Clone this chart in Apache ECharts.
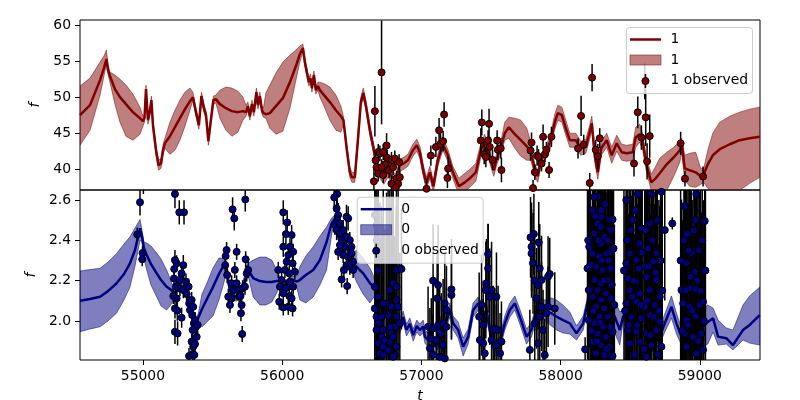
<!DOCTYPE html>
<html><head><meta charset="utf-8">
<script src="https://cdn.jsdelivr.net/npm/echarts@6/dist/echarts.min.js"></script>
<style>html,body{margin:0;padding:0;background:#fff}#c{width:800px;height:400px}</style>
</head><body><div id="c"></div>
<script>
const xTicks = [55000, 56000, 57000, 58000, 59000];
const topTicks = [40, 45, 50, 55, 60];
const botTicks = [2.0, 2.2, 2.4, 2.6];
const xRange = [54548, 59432];
const topRange = [37.13, 60.69];
const botRange = [1.806, 2.65];

// GP prediction for output "1": [t, mean, lower, upper]
const topGP = [
[54548,47.50,43.33,51.53],[54620,48.89,45.42,52.64],[54692,52.36,50.28,54.86],[54720,54.03,52.92,55.69],
[54738,55.28,54.58,56.53],[54749,53.75,53.19,54.58],[54763,52.92,52.08,53.47],[54799,51.11,49.03,53.06],
[54835,50.00,46.53,52.50],[54878,49.03,44.58,51.67],[54928,47.92,44.03,50.42],[54979,47.08,44.86,48.61],
[55000,46.67,45.97,47.36],[55011,47.08,46.53,47.64],[55022,51.11,50.56,51.67],[55036,46.81,46.25,47.36],
[55051,48.19,47.64,48.75],[55061,49.58,49.03,50.14],[55072,46.11,45.56,46.67],[55094,42.64,41.94,43.19],
[55112,40.56,39.86,41.25],[55130,40.83,40.14,41.53],[55144,42.64,41.94,43.33],[55158,43.61,42.92,44.31],
[55194,44.58,42.08,46.53],[55230,45.83,42.64,48.19],[55266,47.08,44.03,49.58],[55302,48.33,45.97,50.69],
[55338,49.44,48.19,51.25],[55359,50.00,49.58,50.69],[55381,47.92,47.36,48.47],[55402,46.11,45.56,46.67],
[55420,50.14,49.58,50.69],[55438,48.47,47.92,49.03],[55453,47.50,46.94,48.06],[55470,43.89,43.33,44.44],
[55488,46.81,46.25,47.36],[55506,49.58,49.03,50.14],[55524,49.72,49.17,50.28],[55553,49.03,47.08,50.97],
[55596,48.47,45.42,51.39],[55639,48.06,44.58,51.25],[55682,47.92,45.14,50.83],[55718,48.06,46.81,50.00],
[55740,47.92,47.36,48.89],[55754,48.75,48.19,49.31],[55768,47.36,46.81,47.92],[55783,49.03,48.47,49.58],
[55797,47.92,47.36,48.47],[55815,50.69,50.14,51.25],[55826,48.89,48.33,49.44],[55840,50.14,49.58,50.69],
[55855,48.19,47.64,48.75],[55865,47.78,47.22,48.47],[55883,47.64,47.08,50.56],[55912,47.78,45.69,51.67],
[55955,48.75,44.86,53.33],[56005,49.86,45.28,54.86],[56056,52.08,48.47,55.83],[56099,54.31,52.36,56.53],
[56127,55.97,54.86,57.08],[56149,56.81,56.25,57.36],[56163,54.86,54.31,55.42],[56177,53.47,52.92,54.03],
[56192,52.08,51.53,52.64],[56203,52.64,52.08,53.19],[56214,51.25,50.69,51.81],[56228,53.06,52.50,53.61],
[56242,50.97,50.42,51.53],[56257,51.53,50.97,52.08],[56271,50.97,50.00,52.08],[56307,50.14,48.47,51.81],
[56343,49.31,46.81,51.39],[56386,48.19,45.42,50.28],[56422,47.36,45.14,48.75],[56440,46.81,46.25,47.36],
[56465,42.64,42.08,43.19],[56486,39.58,38.89,40.28],[56501,38.89,38.19,39.58],[56522,38.89,38.19,39.58],
[56544,44.03,43.33,44.72],[56565,49.31,48.61,50.00],[56583,50.56,49.86,51.25],[56601,48.89,48.19,49.58],
[56630,45.42,44.72,46.11],[56659,42.64,41.94,43.33],[56673,40.83,40.14,41.53],[56702,39.58,38.75,40.42],
[56730,38.75,37.92,39.58],[56759,39.72,38.89,40.56],[56788,39.03,38.19,39.86],[56817,38.47,37.64,39.31],
[56845,40.56,39.72,41.39],[56874,40.83,40.00,41.67],[56903,41.25,40.42,42.08],[56939,42.64,41.81,43.47],
[56967,43.33,42.50,44.17],[56989,42.36,41.53,43.19],[57010,40.14,39.31,40.97],[57035,38.06,37.22,38.89],
[57061,39.58,38.75,40.42],[57086,37.64,36.81,38.47],[57118,41.25,40.42,42.08],[57154,43.47,42.64,44.31],
[57190,41.94,41.11,42.78],[57226,39.58,38.75,40.42],[57269,37.64,36.53,38.75],[57312,38.19,36.94,39.44],
[57348,38.75,37.50,40.00],[57391,39.58,38.33,40.83],[57427,42.64,41.67,43.61],[57455,44.03,43.19,44.86],
[57477,42.64,41.81,43.47],[57498,41.25,40.42,42.08],[57520,39.86,39.03,40.69],[57542,41.53,40.69,42.36],
[57570,42.92,42.08,43.75],[57599,45.00,44.03,46.53],[57628,45.83,44.31,47.22],[57671,44.86,42.92,47.08],
[57714,44.03,41.81,46.81],[57757,43.19,41.25,45.69],[57786,42.36,41.25,43.75],[57815,39.86,39.03,40.69],
[57836,39.03,38.19,39.86],[57858,41.25,40.42,42.08],[57894,42.36,41.53,43.19],[57929,44.03,43.06,45.00],
[57958,46.53,45.56,47.64],[57980,47.78,46.81,48.89],[58009,47.50,46.53,48.61],[58037,45.69,44.72,46.81],
[58066,44.03,43.06,45.00],[58109,44.03,43.06,45.00],[58145,42.92,41.94,43.89],[58181,43.19,42.22,44.17],
[58209,45.14,44.17,46.11],[58224,46.39,45.42,47.36],[58245,41.94,40.97,42.92],[58267,39.58,38.61,40.56],
[58292,42.92,41.94,43.89],[58331,44.03,43.06,45.00],[58367,41.94,40.83,43.06],[58403,43.61,42.50,44.72],
[58439,42.36,41.25,43.47],[58475,42.22,41.11,43.33],[58518,42.36,41.25,43.47],[58539,44.44,43.06,45.83],
[58568,44.86,43.75,46.25],[58590,43.75,42.64,44.86],[58614,40.83,39.86,41.81],[58651,38.19,37.08,39.31],
[58683,38.75,36.81,40.42],[58712,39.44,36.53,41.53],[58762,40.69,37.08,42.36],[58813,41.67,39.03,43.06],
[58856,42.64,40.97,43.89],[58870,43.61,42.36,44.31],[58891,40.14,38.47,41.94],[58927,39.86,37.64,42.22],
[58970,39.58,37.50,42.36],[59006,39.03,37.92,40.14],[59028,39.31,38.19,40.14],[59057,40.69,37.36,42.64],
[59093,41.94,36.81,45.00],[59143,42.78,36.25,46.53],[59215,43.47,36.39,47.36],[59286,44.03,37.08,47.92],
[59358,44.31,38.06,48.33],[59430,44.51,38.89,48.61]
];

// GP prediction for output "0": [t, mean, lower, upper]
const botGP = [
[54548,2.100,1.946,2.248],[54620,2.109,1.960,2.255],[54692,2.120,1.971,2.261],[54749,2.148,2.000,2.292],
[54811,2.187,2.039,2.335],[54864,2.233,2.104,2.382],[54907,2.286,2.168,2.418],[54943,2.352,2.272,2.461],
[54979,2.460,2.401,2.504],[54993,2.421,2.392,2.451],[55007,2.362,2.312,2.392],[55027,2.327,2.253,2.387],
[55058,2.282,2.178,2.372],[55099,2.236,2.119,2.337],[55130,2.203,2.074,2.307],[55170,2.170,2.054,2.253],
[55194,2.158,2.074,2.213],[55218,2.145,2.104,2.168],[55237,2.143,2.124,2.163],[55266,2.178,2.158,2.198],
[55287,2.223,2.203,2.243],[55314,2.138,2.119,2.158],[55338,2.079,2.059,2.099],[55361,2.014,1.995,2.034],
[55374,1.990,1.970,2.009],[55397,2.014,1.990,2.034],[55424,2.059,1.970,2.133],[55460,2.109,1.995,2.188],
[55503,2.168,2.024,2.263],[55546,2.233,2.104,2.312],[55577,2.272,2.178,2.312],[55601,2.267,2.243,2.292],
[55614,2.193,2.168,2.218],[55625,2.153,2.129,2.178],[55649,2.120,2.099,2.143],[55675,2.124,2.099,2.148],
[55697,2.137,2.114,2.158],[55718,2.173,2.148,2.198],[55733,2.203,2.178,2.228],[55756,2.253,2.223,2.287],
[55792,2.213,2.119,2.302],[55840,2.198,2.079,2.317],[55883,2.193,2.079,2.317],[55926,2.193,2.094,2.302],
[55960,2.198,2.138,2.253],[55984,2.198,2.178,2.218],[56007,2.178,2.158,2.198],[56041,2.188,2.168,2.208],
[56070,2.203,2.183,2.223],[56104,2.195,2.168,2.223],[56127,2.203,2.104,2.269],[56170,2.228,2.089,2.322],
[56223,2.253,2.119,2.368],[56271,2.302,2.178,2.421],[56319,2.392,2.253,2.467],[56355,2.484,2.426,2.511],
[56372,2.501,2.481,2.521],[56393,2.451,2.431,2.471],[56415,2.385,2.362,2.406],[56450,2.337,2.317,2.357],
[56486,2.302,2.282,2.322],[56534,2.269,2.193,2.352],[56582,2.236,2.133,2.312],[56630,2.188,2.089,2.263],
[56654,2.170,2.114,2.228],[56673,2.143,2.119,2.168],[56702,2.104,2.079,2.129],[56738,2.054,2.029,2.079],
[56773,2.014,1.990,2.039],[56809,1.995,1.970,2.019],[56845,1.965,1.935,1.995],[56869,2.019,1.990,2.049],
[56893,1.955,1.925,1.985],[56917,1.985,1.955,2.014],[56941,1.930,1.900,1.960],[56967,1.975,1.945,2.004],
[56989,1.955,1.925,1.985],[57013,1.971,1.940,2.004],[57025,1.922,1.890,1.955],[57048,1.905,1.870,1.940],
[57061,1.955,1.925,1.985],[57096,1.872,1.841,1.905],[57132,1.905,1.875,1.935],[57168,1.971,1.940,2.004],
[57204,2.054,2.019,2.089],[57228,1.988,1.955,2.024],[57264,1.955,1.915,1.995],[57300,1.872,1.826,1.915],
[57336,1.922,1.885,1.960],[57372,2.054,2.019,2.089],[57408,2.087,2.054,2.119],[57432,2.021,1.990,2.054],
[57468,2.054,2.019,2.089],[57491,1.955,1.920,1.990],[57527,1.856,1.821,1.890],[57563,1.889,1.856,1.925],
[57599,1.988,1.955,2.024],[57635,2.054,2.019,2.089],[57671,2.087,2.054,2.124],[57707,2.021,1.985,2.059],
[57755,1.922,1.885,1.960],[57791,1.955,1.920,1.990],[57827,2.054,2.014,2.094],[57850,2.070,2.024,2.114],
[57886,2.054,2.004,2.104],[57934,2.038,1.975,2.114],[57970,2.021,1.955,2.104],[58017,2.004,1.940,2.079],
[58066,1.988,1.935,2.044],[58114,1.938,1.905,1.975],[58162,1.988,1.955,2.024],[58198,2.104,2.074,2.133],
[58224,2.153,2.124,2.183],[58267,2.104,2.074,2.133],[58310,2.129,2.099,2.158],[58353,2.070,2.039,2.104],
[58389,2.021,1.940,2.104],[58425,1.955,1.880,2.044],[58448,2.021,1.990,2.054],[58484,2.054,2.024,2.084],
[58532,2.004,1.975,2.034],[58568,2.054,2.024,2.084],[58616,2.038,2.009,2.069],[58664,1.988,1.955,2.024],
[58712,1.922,1.885,1.965],[58748,1.988,1.945,2.034],[58796,2.070,2.014,2.124],[58832,1.988,1.935,2.039],
[58868,1.922,1.880,1.965],[58904,1.872,1.841,1.905],[58951,1.922,1.890,1.955],[59023,1.971,1.875,2.064],
[59057,1.995,1.885,2.079],[59095,2.013,1.945,2.064],[59131,1.922,1.880,2.004],[59190,1.914,1.885,1.965],
[59238,1.880,1.856,1.955],[59310,1.955,1.905,2.079],[59358,1.980,1.890,2.124],[59430,2.029,1.880,2.168]
];

// observed points for "1": [t, value, error]
const topObs = [
[56659,38.33,1.7],[56666,48.06,3.5],[56714,53.43,7.2],[56671,41.25,1.4],[56690,42.40,1.1],[56678,40.30,1.4],
[56690,39.40,1.1],[56702,42.20,1.1],[56726,42.40,1.1],[56738,40.70,1.1],[56750,43.30,1.7],[56754,41.60,1.1],
[56768,39.90,1.1],[56785,41.30,1.1],[56797,40.30,1.1],[56809,41.50,1.1],[56821,38.70,1.1],[56833,38.00,1.1],
[56840,41.00,1.1],[56714,40.30,1.1],[56726,39.20,1.1],[56785,38.00,1.1],[56817,37.50,1.1],[56845,38.90,1.1],
[57037,37.30,1.4],[57068,41.90,1.4],[57104,43.10,1.4],[57127,45.40,1.7],[57137,43.50,1.4],[57156,43.90,1.4],
[57163,47.60,1.7],[57192,40.10,1.7],[57187,38.80,1.4],[57434,46.50,1.8],[57427,44.00,1.7],[57451,42.10,1.4],
[57463,41.70,1.4],[57486,46.30,2.1],[57479,44.00,1.4],[57491,43.10,1.4],[57511,41.30,1.4],[57544,44.00,1.4],
[57549,42.70,1.4],[57570,42.90,1.4],[57575,39.90,1.7],[57784,42.60,1.4],[57791,43.70,1.4],[57802,37.40,1.1],
[57815,39.60,1.1],[57831,41.90,1.4],[57841,41.70,1.1],[57863,40.80,1.1],[57874,44.50,1.7],[57888,42.10,1.1],
[57898,42.70,1.1],[57917,39.90,1.1],[57934,44.50,1.4],[58125,42.90,1.4],[58147,47.40,2.8],[58166,43.40,1.4],
[58209,38.10,1.4],[58226,52.70,1.9],[58252,42.70,1.4],[58267,41.80,1.7],[58281,44.30,1.4],[58527,40.80,1.8],
[58554,47.90,2.2],[58580,44.40,1.7],[58604,52.20,2.5],[58611,47.20,4.0],[58621,41.10,2.5],[58640,44.60,3.0],
[58862,43.60,1.6],[58893,38.70,1.1],[59023,39.00,1.4]
];

// observed points for "0": [t, value, error]
const botObs = [
[54979,2.589,0.065],[54959,2.429,0.035],[54997,2.337,0.035],[54995,2.306,0.035],[55003,2.710,0.080],
[55230,2.630,0.07],[55261,2.539,0.06],[55295,2.539,0.06],[55230,2.302,0.05],[55242,2.286,0.04],[55225,2.258,0.05],
[55223,2.211,0.04],[55237,2.170,0.04],[55218,2.124,0.04],[55242,2.112,0.04],[55230,2.062,0.05],[55247,2.051,0.05],
[55230,1.946,0.06],[55249,1.938,0.06],[55261,2.203,0.04],[55266,2.162,0.04],[55278,2.236,0.04],[55290,2.277,0.05],
[55290,2.153,0.04],[55309,2.195,0.04],[55314,2.133,0.04],[55328,2.170,0.04],[55332,2.087,0.04],[55338,2.054,0.04],
[55350,2.104,0.04],[55354,2.029,0.04],[55361,2.070,0.04],[55366,1.988,0.04],[55374,2.004,0.04],[55381,1.971,0.04],
[55386,1.921,0.04],[55357,1.955,0.04],[55350,1.897,0.04],[55361,1.872,0.04],[55374,1.885,0.04],[55331,1.826,0.04],
[55357,1.836,0.04],[55278,2.016,0.05],[55393,1.980,0.04],[55369,1.831,0.04],
[55594,2.322,0.04],[55591,2.277,0.04],[55605,2.228,0.04],[55601,2.352,0.04],[55644,2.554,0.06],[55656,2.509,0.06],
[55735,2.603,0.06],[55637,2.187,0.04],[55654,2.153,0.04],[55637,2.112,0.04],[55673,2.187,0.04],[55684,2.153,0.04],
[55692,2.120,0.04],[55709,2.079,0.04],[55704,2.038,0.04],[55716,2.162,0.04],[55733,2.170,0.04],[55738,2.306,0.04],
[55745,2.236,0.04],[55713,1.935,0.04],[55660,2.253,0.04],[55673,2.343,0.04],[55613,2.120,0.04],[55625,2.079,0.04],
[55701,2.124,0.04],[55756,2.253,0.04],
[56008,2.539,0.06],[56036,2.489,0.06],[56027,2.431,0.05],[56068,2.426,0.05],[56008,2.368,0.05],[56056,2.368,0.04],
[56044,2.327,0.04],[56079,2.343,0.04],[56032,2.294,0.04],[56075,2.286,0.04],[55972,2.253,0.04],[56020,2.253,0.04],
[56051,2.236,0.04],[56091,2.244,0.04],[55996,2.203,0.04],[56056,2.195,0.04],[55984,2.170,0.04],[56027,2.162,0.04],
[56079,2.170,0.04],[56008,2.137,0.04],[56051,2.124,0.04],[55979,2.095,0.04],[56068,2.112,0.04],[56008,2.067,0.04],
[56044,2.070,0.04],[56075,2.062,0.04],
[56395,2.630,0.07],[56374,2.613,0.07],[56391,2.559,0.06],[56402,2.526,0.06],[56395,2.501,0.05],[56379,2.476,0.05],
[56415,2.484,0.05],[56391,2.451,0.05],[56420,2.434,0.05],[56462,2.517,0.06],[56474,2.509,0.06],[56434,2.401,0.05],
[56462,2.418,0.05],[56486,2.401,0.04],[56450,2.368,0.04],[56486,2.360,0.04],[56415,2.377,0.04],[56438,2.327,0.04],
[56474,2.319,0.04],[56498,2.335,0.04],[56462,2.277,0.04],[56486,2.269,0.04],[56510,2.294,0.04],[56427,2.206,0.04],
[56467,2.173,0.04],[56443,2.253,0.04],[56402,2.343,0.04],[56438,2.451,0.05],[56510,2.253,0.04],[56498,2.368,0.04],
[56666,2.526,0.50],[56678,2.476,0.45],[56678,2.401,0.60],[56678,2.343,0.50],[56666,2.062,0.70],[56678,2.021,0.55],
[56702,1.988,0.60],[56678,1.955,0.50],[56714,1.921,0.65],[56690,1.889,0.50],[56726,1.872,0.60],[56702,1.839,0.55],
[56750,1.847,0.70],[56773,1.897,0.50],[56785,1.938,0.60],[56809,1.971,0.45],[56761,2.029,0.70],[56821,2.021,0.50],
[56750,2.087,0.55],[56833,2.070,0.60],[56809,1.831,0.50],[56797,2.302,0.60],[56821,2.253,0.45],[56857,2.258,0.30],
[56690,2.253,0.55],[56666,2.170,0.60],[56690,2.120,0.50],[56726,2.087,0.65],[56773,2.153,0.50],[56797,2.187,0.55],
[56821,2.170,0.40],[56714,2.021,0.50],[56785,2.070,0.60],[56821,2.104,0.45],[56845,1.988,0.35],[56690,1.988,0.55],
[56726,1.955,0.50],[56773,1.971,0.60],[56738,1.905,0.55],[56797,1.921,0.50],[56761,1.856,0.60],[56821,1.872,0.45],
[56726,1.831,0.50],[56797,1.822,0.55],
[57084,2.200,0.28],[57120,2.178,0.30],[57113,2.112,0.22],[57048,1.971,0.20],[57084,1.963,0.22],[57120,1.980,0.20],
[57132,1.946,0.24],[57156,1.988,0.22],[57180,1.971,0.20],[57168,2.087,0.25],[57180,2.054,0.22],[57216,2.157,0.25],
[57216,2.129,0.22],[57071,1.913,0.20],[57107,1.905,0.22],[57144,1.938,0.20],[57156,1.880,0.20],[57061,1.864,0.20],
[57084,1.831,0.20],[57132,1.822,0.20],[57168,1.814,0.20],
[57415,2.021,0.22],[57432,2.079,0.25],[57463,2.153,0.24],[57479,2.332,0.15],[57479,2.261,0.22],[57467,2.187,0.22],
[57491,2.120,0.24],[57539,2.120,0.22],[57527,1.963,0.20],[57551,1.955,0.22],[57420,1.905,0.20],[57444,1.889,0.22],
[57504,1.905,0.22],[57575,1.897,0.20],[57539,1.880,0.20],[57455,1.839,0.20],[57565,1.839,0.20],[57444,1.980,0.22],
[57504,2.153,0.24],[57516,1.955,0.22],
[57784,2.415,0.20],[57808,2.431,0.20],[57791,2.368,0.22],[57843,2.390,0.20],[57802,2.286,0.25],[57850,2.261,0.22],
[57814,2.200,0.25],[57838,2.178,0.22],[57863,2.203,0.22],[57922,2.233,0.18],[57826,2.112,0.25],[57863,2.070,0.22],
[57910,2.070,0.20],[57958,2.062,0.18],[57850,2.021,0.22],[57898,2.038,0.20],[57779,1.856,0.20],[57886,1.831,0.18],
[57814,1.988,0.22],[57874,1.955,0.20],[57838,1.889,0.22],[57910,2.220,0.20],[57791,2.335,0.22],
[58176,1.859,0.06],
[58193,2.261,0.45],[58205,2.368,0.50],[58230,2.335,0.60],[58242,2.435,0.55],[58266,2.484,0.70],[58290,2.467,0.50],
[58314,2.418,0.60],[58350,2.501,0.45],[58361,2.451,0.55],[58290,2.550,0.60],[58266,2.616,0.50],[58242,2.616,0.65],
[58230,2.550,0.50],[58290,2.517,0.55],[58373,2.504,0.45],[58290,2.385,0.60],[58338,2.401,0.50],[58278,2.319,0.65],
[58326,2.335,0.50],[58361,2.343,0.55],[58254,2.269,0.60],[58302,2.253,0.50],[58361,2.261,0.45],[58242,2.203,0.55],
[58290,2.187,0.60],[58338,2.203,0.50],[58266,2.153,0.65],[58326,2.137,0.50],[58230,2.120,0.55],[58290,2.104,0.60],
[58361,2.112,0.45],[58254,2.070,0.50],[58314,2.062,0.60],[58278,2.021,0.55],[58338,2.021,0.50],[58242,1.988,0.60],
[58302,1.971,0.50],[58373,1.946,0.45],[58266,1.938,0.55],[58326,1.921,0.60],[58230,1.897,0.50],[58290,1.880,0.65],
[58350,1.872,0.50],[58254,1.839,0.55],[58314,1.831,0.60],[58373,1.826,0.45],[58202,2.153,0.50],[58202,2.004,0.45],
[58386,2.079,0.40],
[58198,2.400,0.60],[58214,2.280,0.55],[58222,1.950,0.60],[58236,2.050,0.50],[58248,2.520,0.60],[58260,1.900,0.55],
[58272,2.400,0.60],[58284,1.990,0.55],[58296,2.300,0.60],[58308,2.200,0.50],[58320,2.580,0.55],[58332,1.860,0.60],
[58344,2.300,0.55],[58356,1.970,0.60],[58367,2.180,0.50],[58380,2.360,0.55],
[58472,2.600,0.50],[58556,2.630,0.55],[58652,2.630,0.50],[58724,2.641,0.45],[58520,2.501,0.60],[58580,2.460,0.50],
[58640,2.484,0.55],[58497,2.335,0.60],[58568,2.385,0.50],[58628,2.360,0.65],[58688,2.335,0.50],[58472,2.286,0.55],
[58544,2.302,0.60],[58604,2.269,0.50],[58664,2.294,0.55],[58484,2.211,0.50],[58544,2.195,0.60],[58616,2.219,0.55],
[58688,2.203,0.50],[58497,2.153,0.60],[58568,2.137,0.50],[58640,2.153,0.55],[58712,2.120,0.45],[58472,2.087,0.50],
[58544,2.095,0.60],[58604,2.070,0.55],[58676,2.079,0.50],[58509,2.021,0.60],[58580,2.013,0.50],[58640,2.029,0.55],
[58712,1.996,0.45],[58484,1.955,0.50],[58544,1.946,0.60],[58616,1.938,0.55],[58688,1.955,0.50],[58497,1.889,0.60],
[58568,1.897,0.50],[58652,1.880,0.55],[58724,1.872,0.45],[58532,1.831,0.60],[58616,1.822,0.50],[58700,1.831,0.55],
[58455,2.250,0.60],[58463,2.050,0.55],[58478,2.400,0.60],[58490,1.980,0.55],[58503,2.450,0.60],[58515,2.120,0.55],
[58526,2.200,0.60],[58538,2.550,0.50],[58550,1.980,0.60],[58562,2.260,0.55],[58574,2.080,0.60],[58586,2.340,0.55],
[58598,1.860,0.60],[58610,2.450,0.55],[58622,2.100,0.60],[58634,2.270,0.55],[58646,1.930,0.60],[58658,2.400,0.55],
[58670,2.020,0.60],[58682,2.240,0.55],[58694,2.500,0.60],[58706,2.050,0.55],[58718,2.300,0.60],[58730,2.150,0.55],
[58748,2.451,0.35],[58802,2.484,0.03],
[58891,2.570,0.50],[58975,2.630,0.55],[58970,2.501,0.60],[59035,2.496,0.50],[58908,2.431,0.55],[58940,2.338,0.60],
[58904,2.286,0.50],[58963,2.244,0.55],[58880,2.087,0.50],[58927,2.070,0.60],[58999,2.079,0.55],[59023,2.095,0.50],
[58904,2.004,0.55],[58970,2.021,0.60],[58891,1.938,0.50],[58951,1.921,0.55],[59011,1.938,0.60],[58904,1.872,0.50],
[58975,1.839,0.55],[59023,1.856,0.50],[58927,2.162,0.60],[58970,2.157,0.50],[58868,2.153,0.45],
[58862,2.300,0.60],[58874,1.950,0.55],[58886,2.400,0.60],[58898,2.150,0.55],[58914,1.980,0.60],[58921,2.350,0.55],
[58933,2.220,0.60],[58945,2.050,0.55],[58957,2.450,0.60],[58981,2.200,0.55],[58987,1.900,0.60],[58993,2.350,0.55],
[59005,2.150,0.60],[59017,2.400,0.55],[59029,2.000,0.60],[59040,2.250,0.55]
];

const FONT = 'DejaVu Sans';
const FS = 13.9;

function gpSeries(gp, i, color, bandColor) {
  return [
    {type:'custom', xAxisIndex:i, yAxisIndex:i, data: gp, silent:true, clip:true, z:2,
     encode:{x:0, y:[1, 2, 3]},
     renderItem: function (params, api) {
       if (params.dataIndex !== 0) return null;
       const upper = gp.map(r => api.coord([r[0], r[3]]));
       const lower = gp.map(r => api.coord([r[0], r[2]])).reverse();
       const cs = params.coordSys;
       return {type:'group', children:[{
         type:'polygon', shape:{points: upper.concat(lower)},
         style:{fill:bandColor, stroke:bandColor, lineWidth:1}
       }], clipPath:{type:'rect', shape:{x:cs.x, y:cs.y, width:cs.width, height:cs.height}}};
     }},
    {type:'line', xAxisIndex:i, yAxisIndex:i, data: gp.map(r => [r[0], r[1]]),
     symbol:'none', silent:true, lineStyle:{color:color, width:2.5}, z:3}
  ];
}
function obsSeries(obs, i, color, range) {
  return [
    {type:'custom', xAxisIndex:i, yAxisIndex:i, data: obs, silent:true, z:4,
     encode:{x:0, y:1},
     renderItem: function (params, api) {
       const t = api.value(0), f = api.value(1), e = api.value(2);
       const lo = Math.max(f - e, range[0]), hi = Math.min(f + e, range[1]);
       if (lo >= hi) return null;
       const p1 = api.coord([t, lo]), p2 = api.coord([t, hi]);
       return {type:'line', shape:{x1:p1[0], y1:p1[1], x2:p2[0], y2:p2[1]},
               style:{stroke:'#000', lineWidth:1.5}};
     }},
    {type:'scatter', xAxisIndex:i, yAxisIndex:i, data: obs.map(r => [r[0], r[1]]), silent:true, z:5,
     symbol:'circle', symbolSize:7, itemStyle:{color:color, borderColor:'#000', borderWidth:1, opacity:1}}
  ];
}
function legendEls(L, T, label, color, fill) {
  const font = FS + 'px "' + FONT + '"';
  return [
    {type:'rect', z:100, shape:{x:L+0.5, y:T+0.5, width:126, height:66, r:3},
     style:{fill:'rgba(255,255,255,0.8)', stroke:'#cccccc', lineWidth:1}},
    {type:'line', z:101, shape:{x1:L+4, y1:T+12.5, x2:L+35, y2:T+12.5}, style:{stroke:color, lineWidth:2.5}},
    {type:'text', z:101, x:L+44.5, y:T+12.5, style:{text:label, font:font, fill:'#000', verticalAlign:'middle'}},
    {type:'rect', z:101, shape:{x:L+4, y:T+28, width:31, height:10}, style:{fill:fill, stroke:fill, lineWidth:1}},
    {type:'text', z:101, x:L+44.5, y:T+33, style:{text:label, font:font, fill:'#000', verticalAlign:'middle'}},
    {type:'line', z:101, shape:{x1:L+19.5, y1:T+47, x2:L+19.5, y2:T+61}, style:{stroke:'#000', lineWidth:1.5}},
    {type:'circle', z:102, shape:{cx:L+19.5, cy:T+54, r:3.5}, style:{fill:color, stroke:'#000', lineWidth:1}},
    {type:'text', z:101, x:L+44.5, y:T+53.5, style:{text:label + ' observed', font:font, fill:'#000', verticalAlign:'middle'}}
  ];
}

const labelStyle = {color:'#000', fontFamily:FONT, fontSize:FS};
const nameStyle = {color:'#000', fontFamily:FONT, fontSize:FS, fontStyle:'italic'};

const chart = echarts.init(document.getElementById('c'), null, {renderer:'canvas'});
chart.setOption({
  animation:false,
  backgroundColor:'#fff',
  grid:[
    {left:80, top:20, width:680, height:170, show:true, borderColor:'#000', borderWidth:1,
     backgroundColor:'transparent', containLabel:false, outerBoundsMode:'none'},
    {left:80, top:190, width:680, height:170, show:true, borderColor:'#000', borderWidth:1,
     backgroundColor:'transparent', containLabel:false, outerBoundsMode:'none'}
  ],
  xAxis:[
    {type:'value', gridIndex:0, min:xRange[0], max:xRange[1], axisLine:{show:false, onZero:false},
     axisTick:{show:false}, axisLabel:{show:false}, splitLine:{show:false}},
    {type:'value', gridIndex:1, min:xRange[0], max:xRange[1], axisLine:{show:false, onZero:false},
     axisTick:{show:true, length:5, lineStyle:{color:'#000', width:1}, customValues:xTicks},
     axisLabel:{show:true, margin:9, customValues:xTicks, formatter:v => String(v), ...labelStyle},
     splitLine:{show:false},
     name:'t', nameLocation:'middle', nameGap:29, nameTextStyle:nameStyle}
  ],
  yAxis:[
    {type:'value', gridIndex:0, min:topRange[0], max:topRange[1], axisLine:{show:false, onZero:false},
     axisTick:{show:true, length:5, lineStyle:{color:'#000', width:1}, customValues:topTicks},
     axisLabel:{show:true, margin:9, customValues:topTicks, formatter:v => String(v), ...labelStyle},
     splitLine:{show:false},
     name:'f', nameLocation:'middle', nameGap:36, nameRotate:90, nameTextStyle:nameStyle},
    {type:'value', gridIndex:1, min:botRange[0], max:botRange[1], axisLine:{show:false, onZero:false},
     axisTick:{show:true, length:5, lineStyle:{color:'#000', width:1}, customValues:botTicks},
     axisLabel:{show:true, margin:9, customValues:botTicks, formatter:v => Number(v).toFixed(1), ...labelStyle},
     splitLine:{show:false},
     name:'f', nameLocation:'middle', nameGap:36, nameRotate:90, nameTextStyle:nameStyle}
  ],
  series:[].concat(
    gpSeries(topGP, 0, '#800000', 'rgba(128,0,0,0.5)'),
    obsSeries(topObs, 0, '#800000', topRange),
    gpSeries(botGP, 1, '#000080', 'rgba(0,0,128,0.5)'),
    obsSeries(botObs, 1, '#000080', botRange)
  ),
  graphic:[].concat(
    legendEls(626, 27, '1', '#800000', 'rgba(128,0,0,0.5)'),
    legendEls(356.7, 196.7, '0', '#000080', 'rgba(0,0,128,0.5)')
  )
});
</script></body></html>
